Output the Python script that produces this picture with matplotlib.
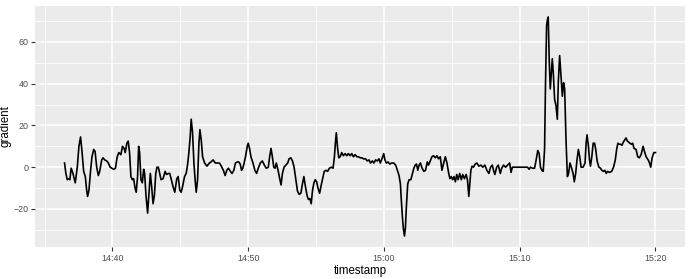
"""Gradient over time, ggplot-style line chart."""
import matplotlib
matplotlib.use("Agg")
import matplotlib.pyplot as plt
import matplotlib.dates as mdates
from matplotlib.ticker import MultipleLocator
import pandas as pd

plt.rcParams['font.family'] = ['Liberation Sans', 'DejaVu Sans']

# minutes after 14:30
minutes = [
    6.47, 6.57, 6.67, 6.77, 6.86, 6.96, 7.09, 7.26, 7.41, 7.53, 7.65, 7.75,
    7.88, 8.00, 8.10, 8.17, 8.27, 8.37, 8.49, 8.62, 8.72, 8.84, 8.96, 9.06,
    9.21, 9.31, 9.43, 9.58, 9.70, 9.83, 9.95, 10.10, 10.22, 10.35, 10.47,
    10.62, 10.74, 10.86, 10.94, 11.06, 11.16, 11.26, 11.36, 11.46, 11.56,
    11.65, 11.75, 11.85, 11.93, 12.00, 12.10, 12.20, 12.30, 12.37, 12.47,
    12.59, 12.69, 12.79, 12.89, 12.99, 13.09, 13.19, 13.28, 13.38, 13.48,
    13.58, 13.73, 13.88, 13.98, 14.12, 14.22, 14.32, 14.47, 14.59, 14.74,
    14.84, 14.96, 15.06, 15.16, 15.31, 15.43, 15.53, 15.63, 15.73, 15.80,
    15.90, 16.00, 16.10, 16.17, 16.27, 16.37, 16.44, 16.54, 16.64, 16.79,
    16.96, 17.14, 17.26, 17.41, 17.58, 17.73, 17.88, 18.02, 18.17, 18.30,
    18.42, 18.54, 18.69, 18.81, 18.94, 19.06, 19.19, 19.31, 19.41, 19.51,
    19.60, 19.70, 19.80, 19.93, 20.00, 20.10, 20.20, 20.35, 20.49, 20.62,
    20.74, 20.89, 21.04, 21.19, 21.33, 21.48, 21.58, 21.68, 21.78, 21.88,
    21.98, 22.07, 22.20, 22.32, 22.42, 22.52, 22.64, 22.77, 22.91, 23.01,
    23.14, 23.26, 23.38, 23.51, 23.63, 23.75, 23.88, 23.98, 24.10, 24.22,
    24.35, 24.44, 24.54, 24.64, 24.74, 24.84, 24.94, 25.04, 25.14, 25.26,
    25.38, 25.48, 25.60, 25.73, 25.85, 25.98, 26.12, 26.25, 26.35, 26.42,
    26.49, 26.57, 26.67, 26.77, 26.89, 27.01, 27.14, 27.26, 27.38, 27.51,
    27.63, 27.75, 27.88, 28.00, 28.12, 28.25, 28.37, 28.49, 28.64, 28.77,
    28.89, 29.01, 29.14, 29.26, 29.38, 29.51, 29.63, 29.73, 29.85, 29.98,
    30.07, 30.17, 30.30, 30.42, 30.57, 30.72, 30.86, 30.99, 31.11, 31.21,
    31.28, 31.36, 31.43, 31.51, 31.58, 31.65, 31.75, 31.85, 31.98, 32.10,
    32.20, 32.30, 32.40, 32.49, 32.59, 32.69, 32.81, 32.94, 33.06, 33.19,
    33.28, 33.41, 33.53, 33.65, 33.78, 33.90, 34.02, 34.15, 34.27, 34.40,
    34.52, 34.64, 34.77, 34.86, 34.96, 35.06, 35.16, 35.26, 35.36, 35.46,
    35.58, 35.70, 35.80, 35.93, 36.05, 36.15, 36.25, 36.40, 36.49, 36.59,
    36.72, 36.84, 36.99, 37.14, 37.28, 37.43, 37.58, 37.73, 37.85, 37.98,
    38.07, 38.17, 38.30, 38.42, 38.57, 38.67, 38.81, 38.96, 39.11, 39.26,
    39.36, 39.46, 39.60, 39.80, 40.05, 40.30, 40.44, 40.57, 40.69, 40.79,
    40.94, 41.09, 41.21, 41.33, 41.43, 41.53, 41.63, 41.73, 41.83, 41.90,
    41.98, 42.05, 42.10, 42.17, 42.25, 42.32, 42.40, 42.47, 42.57, 42.67,
    42.77, 42.84, 42.94, 43.04, 43.14, 43.23, 43.31, 43.41, 43.51, 43.60,
    43.70, 43.80, 43.93, 44.02, 44.12, 44.22, 44.32, 44.42, 44.52, 44.67,
    44.81, 44.89, 44.96, 45.06, 45.14, 45.21, 45.31, 45.41, 45.51, 45.60,
    45.70, 45.83, 45.95, 46.05, 46.17, 46.27, 46.37, 46.47, 46.62, 46.77,
    46.91, 47.04, 47.14, 47.23, 47.33, 47.43, 47.53, 47.63, 47.73, 47.83,
    47.93, 48.02, 48.12, 48.22, 48.32, 48.42, 48.57, 48.69, 48.81, 48.94,
    49.09, 49.19, 49.31, 49.46, 49.56, 49.65, 49.75, 49.88, 50.00,
]

gradient = [
    2, -3, -6, -5.5, -6, -0.5, -3, -7.5, 0, 10, 14.5, 8,
    -2, -4.5, -11, -14, -11, -3, 5, 8.5, 7.5, 0, -4, -2,
    3.5, 4.5, 3.5, 3, 2, 0, -0.5, -1, -0.5, 5, 7,
    6, 10, 9, 7, 11.5, 12.5, 7, -4.5, -6, -5.5,
    -9.5, -12, -4.5, 10, 7, -6, -7.5, -1, -3, -13.5,
    -22, -12.5, -3, -9.5, -17.5, -13.5, -3, 0, 0, -3,
    -6, -5.5, -2, -3.5, -3, -3, -5.5, -9.5, -12, -5.5,
    -4.5, -11, -12, -9.5, -4.5, -3, 1, 7, 15, 23,
    16.5, 2, -7, -12, -6, 11.5, 18, 13, 5, 2,
    0.5, 2, 2.5, 3.5, 2, 2, 2, 0.5, -1.5, -4,
    -1.5, -0.5, -2, -3, -1.5, 2, 2.5, 2.5, 1.5, -1.5,
    -0.5, 2, 5, 10, 11.5, 9, 5, 2, -1.5, -3,
    -0.5, 2, 3, 1, -0.5, 0, 5, 9, 5, 0,
    -0.5, 2, -1.5, -5.5, -8.5, -3, 0, 1, 2, 4,
    4.5, 3, 0, -6, -11.5, -13, -12.5, -8.5, -4.5, -9.5,
    -14, -15.5, -15, -17.5, -11, -7.5, -6, -7, -10, -12.5,
    -8.5, -5.5, -2, -1.5, -2, -0.5, 0, -0.5, 5, 11.5,
    16.5, 10, 4.5, 5, 7, 5.5, 6.5, 5.5, 6.5, 5.5,
    6.5, 5, 6, 5, 5, 4.5, 4.5, 4, 4, 3,
    3.5, 2, 3, 2, 3.5, 3, 4, 2, 4, 6.5,
    3.5, 2, 2.5, 1.5, 2, 2, 1, -1.5, -4, -8,
    -16, -24, -29.5, -33, -29, -19, -8, -6, -6, -3,
    -0.5, 1, 1.5, -1.5, 1, 2, -0.5, -2, -1.5, 2.5,
    1, 3, 5, 5.5, 4.5, 5.5, 4, 5, -1.5, 2,
    5, 2, -3, -5.5, -4.5, -6, -4.5, -7, -3.5, -6,
    -3, -6, -3.5, -5.5, -3.5, -6, -14, -1.5, 0.5, 0,
    1.5, 2, 0.5, 1, 0, 1, -1.5, -3, 0, 1,
    -1.5, -3.5, 0, 1, -3, -0.5, 1, 0, 1, 2,
    -2.5, 0, 0, 0, 0, 0, 0, 0, -1, 0,
    -0.5, -0.5, 3.5, 8, 6.5, 0, -1.5, -2, 8.5, 40.5,
    68, 71, 72, 52, 37.5, 44, 52, 45.5, 32.5, 29.5,
    23, 40.5, 53.5, 44, 34, 40.5, 37.5, 13, -4.5, -3,
    2, 0, -3, -7, -3, 3.5, 8.5, 5, 0, 0,
    2, 11.5, 15.5, 10, 3.5, 0.5, 5, 11.5, 11.5, 8.5,
    3, 0, -0.5, -1.5, -2, -1.5, -3, -2, -2.5, -2,
    0, 3.5, 8.5, 11.5, 11, 11, 10.5, 12, 13, 14,
    12.5, 12, 11.5, 11, 11.5, 9, 8.5, 5, 4.5, 6,
    10, 7.5, 5, 3.5, 2, 0, 4.5, 7, 7,
]

start = pd.Timestamp("2021-01-01 14:30")
timestamp = start + pd.to_timedelta(minutes, unit="m")

fig = plt.figure(figsize=(6.9, 2.79), dpi=100, facecolor="white")
ax = fig.add_axes([0.0507, 0.1147, 0.9421, 0.8638])
ax.set_facecolor("#EBEBEB")

ax.plot(timestamp, gradient, color="black", linewidth=1.2)
ax.margins(x=0.05, y=0.05)

ax.xaxis.set_major_locator(mdates.MinuteLocator(byminute=[0, 10, 20, 30, 40, 50]))
ax.xaxis.set_minor_locator(mdates.MinuteLocator(byminute=[5, 15, 25, 35, 45, 55]))
ax.xaxis.set_major_formatter(mdates.DateFormatter("%H:%M"))
ax.yaxis.set_major_locator(MultipleLocator(20))
ax.yaxis.set_minor_locator(MultipleLocator(10))

ax.grid(True, which="major", color="white", linewidth=1.1)
ax.grid(True, which="minor", color="white", linewidth=0.55)
ax.set_axisbelow(True)
for s in ax.spines.values():
    s.set_visible(False)

ax.tick_params(which="major", length=2.75, width=0.8, color="#333333",
               labelcolor="#4D4D4D", labelsize=6.4, pad=2)
ax.tick_params(which="minor", length=0)

ax.set_xlabel("timestamp", fontsize=8.3, labelpad=2)
ax.set_ylabel("gradient", fontsize=8.3, labelpad=1)

fig.savefig("out.png", dpi=100, facecolor="white")
